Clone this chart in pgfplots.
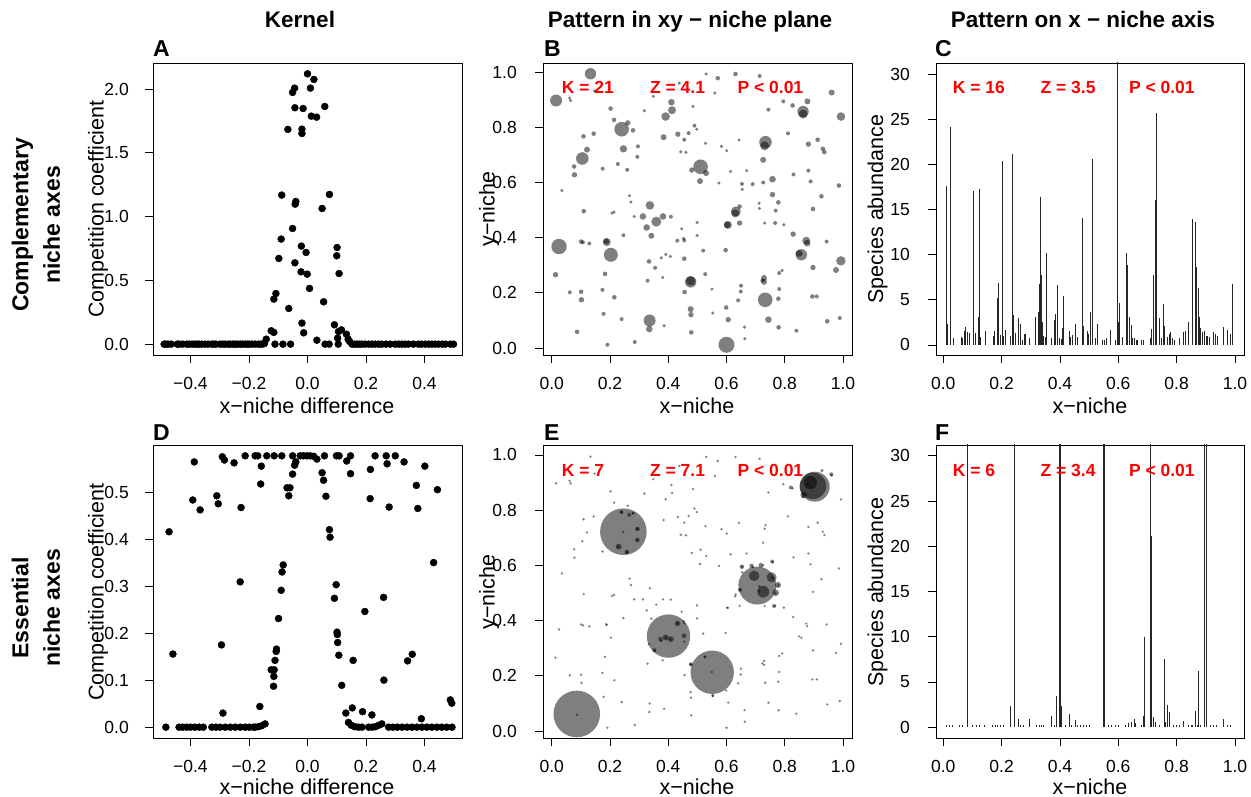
\documentclass[border=0pt]{standalone}
\usepackage{pgfplots}
\pgfplotsset{compat=1.18}
\usepackage{pgfplotstable}
\usepackage{fontspec}
\setmainfont{Liberation Sans}
\definecolor{rred}{RGB}{255,0,0}

\pgfplotstableread{
x y
-0.490 0
-0.485 0
-0.477 0
-0.466 0
-0.445 0
-0.439 0
-0.427 0
-0.413 0
-0.405 0
-0.395 0
-0.386 0
-0.378 0
-0.370 0
-0.361 0
-0.350 0
-0.340 0
-0.327 0
-0.320 0
-0.313 0
-0.299 0
-0.290 0
-0.281 0
-0.270 0
-0.264 0
-0.255 0
-0.247 0
-0.240 0
-0.230 0
-0.222 0
-0.213 0
-0.205 0
-0.199 0
-0.190 0
-0.179 0
-0.168 0
-0.160 0
-0.154 0
-0.147 0.005
-0.141 0.039
-0.124 0.105
-0.115 0.092
-0.111 0
-0.108 0.397
-0.115 0.353
-0.098 0.672
-0.090 0.824
-0.088 1.169
-0.084 0
-0.067 1.684
-0.064 0.280
-0.058 0
-0.051 1.974
-0.051 0.907
-0.044 2.008
-0.043 1.854
-0.043 0.638
-0.042 1.098
-0.040 1.119
-0.022 0.567
-0.021 0.769
-0.019 1.686
-0.019 1.652
-0.019 0.165
-0.015 1.848
-0.013 0.089
-0.005 0.719
-0.001 0.549
0.000 2.120
0.007 0.437
0.010 2.008
0.013 1.788
0.022 2.076
0.031 1.780
0.032 0.031
0.050 1.064
0.055 0.332
0.059 1.864
0.060 0
0.074 0
0.075 1.174
0.092 0.152
0.100 0.693
0.101 0.758
0.103 0.047
0.105 0
0.106 0.099
0.108 0.554
0.116 0.112
0.133 0.078
0.139 0.039
0.144 0.021
0.152 0
0.160 0
0.169 0
0.178 0
0.186 0
0.197 0
0.209 0
0.220 0
0.231 0
0.243 0
0.254 0
0.268 0
0.283 0
0.300 0
0.312 0
0.323 0
0.334 0
0.345 0
0.362 0
0.379 0
0.390 0
0.402 0
0.414 0
0.425 0
0.436 0
0.448 0
0.460 0
0.471 0
0.488 0
0.499 0
}\Adata

\pgfplotstableread{
x y
-0.484 0
-0.473 0.4155
-0.460 0.1555
-0.439 0
-0.427 0
-0.413 0
-0.400 0
-0.387 0.564
-0.392 0.483
-0.385 0
-0.370 0
-0.367 0.462
-0.356 0
-0.327 0
-0.313 0
-0.310 0.492
-0.305 0.475
-0.299 0
-0.294 0.175
-0.291 0.575
-0.289 0.030
-0.284 0.568
-0.281 0
-0.264 0
-0.251 0.562
-0.247 0
-0.230 0.309
-0.230 0
-0.227 0.467
-0.213 0.577
-0.213 0
-0.199 0
-0.185 0
-0.179 0.577
-0.179 0
-0.170 0.577
-0.168 0.001
-0.163 0.044
-0.160 0.517
-0.158 0.555
-0.157 0.003
-0.145 0.007
-0.139 0.577
-0.124 0.122
-0.114 0.122
-0.115 0.108
-0.116 0.087
-0.111 0.142
-0.107 0.161
-0.106 0.166
-0.099 0.231
-0.090 0.291
-0.087 0.330
-0.083 0.345
-0.114 0.577
-0.088 0.577
-0.070 0.509
-0.064 0.492
-0.060 0.509
-0.051 0.538
-0.051 0.577
-0.044 0.557
-0.040 0.564
-0.025 0.577
-0.014 0.577
-0.002 0.577
0.009 0.577
0.021 0.576
0.032 0.570
0.050 0.541
0.055 0.525
0.058 0.577
0.063 0.491
0.075 0.420
0.077 0.404
0.092 0.274
0.098 0.303
0.099 0.577
0.101 0.202
0.102 0.197
0.103 0.180
0.107 0.153
0.108 0.577
0.117 0.089
0.131 0.030
0.134 0.566
0.140 0.010
0.147 0.577
0.147 0.539
0.153 0.041
0.150 0.004
0.156 0.142
0.162 0.001
0.174 0
0.186 0
0.188 0.033
0.196 0.246
0.209 0
0.214 0.486
0.215 0.548
0.220 0.026
0.221 0
0.231 0.577
0.232 0.001
0.243 0.004
0.254 0.007
0.260 0.276
0.261 0.100
0.269 0.577
0.272 0.560
0.279 0.468
0.277 0
0.292 0
0.300 0.577
0.307 0
0.323 0
0.330 0.564
0.340 0
0.342 0.141
0.358 0.155
0.357 0
0.372 0.514
0.377 0.465
0.374 0
0.389 0.018
0.391 0
0.401 0.555
0.408 0
0.425 0
0.431 0.350
0.442 0
0.444 0.505
0.459 0
0.476 0
0.488 0.058
0.493 0.051
0.494 0
}\Ddata

\pgfplotstableread{
x y r
0.133 0.994 5.7
0.015 0.897 6.0
0.240 0.793 7.3
0.105 0.687 6.3
0.511 0.657 7.3
0.025 0.368 7.7
0.203 0.338 7.0
0.336 0.100 6.0
0.600 0.012 8.0
0.733 0.175 7.3
0.734 0.746 6.3
0.731 0.733 4.5
0.863 0.857 5.7
0.863 0.848 4.5
0.857 0.338 5.7
0.849 0.343 3.5
0.993 0.316 4.7
0.993 0.839 4.3
0.477 0.240 5.7
0.477 0.243 4.7
0.632 0.495 5.0
0.630 0.488 4.0
0.337 0.517 4.3
0.359 0.458 5.0
0.391 0.839 4.3
0.411 0.891 3.3
0.413 0.862 4.0
0.605 0.446 4.0
0.758 0.612 3.3
0.874 0.389 4.0
0.877 0.380 3.3
0.189 0.384 4.0
0.187 0.387 3.0
0.246 0.722 3.7
0.326 0.437 3.3
0.342 0.407 3.0
0.313 0.477 3.3
0.382 0.477 3.3
0.335 0.069 3.3
0.509 0.605 3.0
0.530 0.634 3.0
0.481 0.645 2.7
0.744 0.103 3.3
0.976 0.283 3.0
0.729 0.254 3.0
0.729 0.240 3.0
0.726 0.682 3.0
0.881 0.739 2.7
0.878 0.894 3.0
0.961 0.926 3.0
0.101 0.386 2.3
0.078 0.628 2.7
0.077 0.658 2.3
0.121 0.719 3.0
0.109 0.767 2.3
0.261 0.816 2.7
0.279 0.789 2.3
0.202 0.868 2.3
0.214 0.827 2.3
0.144 0.777 2.3
0.384 0.764 3.0
0.433 0.775 2.7
0.455 0.755 2.0
0.528 0.742 1.7
0.443 0.711 1.7
0.461 0.709 1.7
0.456 0.203 2.3
0.527 0.268 2.0
0.477 0.141 3.0
0.478 0.121 2.7
0.479 0.057 2.3
0.455 0.324 2.3
0.455 0.390 2.0
0.334 0.314 2.3
0.355 0.291 2.0
0.329 0.244 2.0
0.376 0.327 1.7
0.392 0.339 1.7
0.407 0.332 1.7
0.597 0.355 2.3
0.602 0.447 3.3
0.645 0.513 2.3
0.645 0.453 2.7
0.758 0.556 2.7
0.778 0.528 2.3
0.769 0.498 2.0
0.829 0.413 2.7
0.926 0.550 2.3
0.897 0.504 2.3
0.931 0.722 2.3
0.936 0.710 2.3
0.881 0.643 2.0
0.889 0.604 2.0
0.897 0.292 2.7
0.944 0.386 2.0
0.946 0.097 2.3
0.989 0.109 2.0
0.986 0.589 2.3
0.895 0.187 2.3
0.910 0.187 2.0
0.778 0.179 2.3
0.779 0.075 2.3
0.840 0.063 2.0
0.827 0.879 2.3
0.795 0.894 2.0
0.811 0.778 2.0
0.744 0.864 2.0
0.714 0.986 2.0
0.631 0.993 2.3
0.570 0.978 2.3
0.560 0.924 1.7
0.530 0.993 1.7
0.438 0.960 1.7
0.485 0.876 1.7
0.349 0.912 1.7
0.318 0.860 1.7
0.147 0.932 1.7
0.061 0.906 1.7
0.065 0.897 1.7
0.035 0.571 1.7
0.110 0.496 2.3
0.107 0.383 2.0
0.129 0.379 2.0
0.246 0.409 2.0
0.175 0.650 2.0
0.227 0.667 2.0
0.259 0.646 2.0
0.294 0.693 2.0
0.296 0.731 2.0
0.207 0.489 1.7
0.214 0.493 1.7
0.267 0.552 1.7
0.272 0.529 1.7
0.283 0.477 1.7
0.409 0.476 2.0
0.431 0.389 2.0
0.453 0.397 1.7
0.446 0.432 1.7
0.499 0.455 1.7
0.499 0.408 1.7
0.520 0.353 2.0
0.550 0.214 1.7
0.470 0.779 2.0
0.490 0.806 2.0
0.498 0.793 1.7
0.553 0.127 1.7
0.599 0.147 2.3
0.606 0.103 2.7
0.650 0.226 2.0
0.649 0.205 2.0
0.640 0.173 2.0
0.662 0.076 1.7
0.663 0.034 1.7
0.669 0.643 1.7
0.653 0.595 2.0
0.654 0.575 1.7
0.690 0.594 2.0
0.712 0.525 1.7
0.713 0.506 1.7
0.726 0.600 2.0
0.731 0.453 1.7
0.767 0.453 2.0
0.781 0.272 2.0
0.791 0.281 1.7
0.781 0.214 2.0
0.797 0.447 1.7
0.830 0.629 2.0
0.913 0.755 2.3
0.191 0.012 2.0
0.285 0.022 2.0
0.178 0.124 2.0
0.183 0.269 2.3
0.174 0.211 2.0
0.062 0.202 2.0
0.087 0.059 2.3
0.101 0.204 2.3
0.102 0.175 2.7
0.013 0.266 2.7
0.215 0.184 2.3
0.240 0.105 2.0
0.386 0.081 1.7
0.381 0.256 1.7
0.583 0.731 1.7
0.601 0.715 1.7
0.614 0.640 1.7
0.643 0.754 1.7
0.574 0.598 1.7
0.723 0.245 2.0
}\Bdata

\pgfplotstableread{
x y r
0.086 0.062 23.3
0.246 0.722 23.3
0.401 0.344 21.7
0.551 0.213 21.7
0.706 0.527 19.0
0.903 0.885 15.0
0.897 0.888 13.3
0.888 0.900 6.7
0.865 0.855 3.3
0.726 0.505 6.0
0.695 0.562 5.3
0.755 0.557 5.0
0.769 0.501 3.3
0.777 0.529 3.0
0.653 0.595 2.3
0.686 0.598 2.3
0.718 0.601 2.3
0.757 0.614 2.0
0.647 0.511 2.0
0.763 0.453 2.0
0.239 0.793 2.0
0.266 0.783 2.0
0.280 0.789 1.7
0.294 0.732 2.3
0.294 0.692 2.3
0.230 0.668 3.0
0.258 0.649 2.3
0.432 0.390 2.7
0.454 0.345 2.3
0.391 0.339 3.0
0.409 0.333 3.0
0.373 0.333 2.3
0.352 0.293 2.0
0.478 0.242 2.0
0.526 0.269 1.7
0.553 0.129 1.7
0.821 0.882 2.0
0.960 0.930 2.0
0.928 0.943 1.7
}\Edata

\pgfplotstableread{
x y
0.011 17.66
0.013 2.3
0.023 24.2
0.034 0.8
0.061 0.9
0.066 0.8
0.072 1.6
0.077 2.0
0.082 1.4
0.088 1.3
0.103 17.1
0.105 2.2
0.109 1.3
0.121 3.1
0.123 17.3
0.129 0.9
0.143 0.9
0.146 1.5
0.171 1.0
0.177 1.6
0.185 5.2
0.190 6.9
0.197 1.1
0.202 20.4
0.206 1.0
0.213 1.7
0.229 1.0
0.238 21.2
0.242 3.3
0.248 1.3
0.257 3.0
0.264 2.3
0.271 0.6
0.278 1.2
0.282 1.2
0.294 0.8
0.315 3.1
0.325 3.6
0.329 6.8
0.333 16.4
0.336 7.8
0.339 2.5
0.345 1.0
0.350 0.9
0.355 10.2
0.371 0.8
0.381 2.8
0.386 3.4
0.391 6.6
0.398 0.8
0.405 0.7
0.408 1.9
0.411 5.4
0.431 1.6
0.435 0.9
0.442 1.1
0.454 2.3
0.461 0.9
0.477 14.1
0.480 2.1
0.493 1.5
0.499 1.2
0.506 3.6
0.510 20.6
0.520 0.8
0.528 2.3
0.546 0.55
0.554 0.6
0.560 0.8
0.574 1.7
0.590 0.6
0.598 35
0.600 2.6
0.603 4.7
0.615 0.9
0.629 10.2
0.632 8.9
0.638 3.1
0.645 2.2
0.649 0.8
0.655 0.8
0.661 0.55
0.666 0.55
0.681 0.55
0.687 0.55
0.711 0.8
0.715 1.8
0.722 7.8
0.728 16.1
0.731 25.7
0.741 3.0
0.749 0.8
0.754 4.5
0.758 2.1
0.769 0.9
0.774 1.2
0.779 1.4
0.786 0.8
0.794 0.6
0.809 0.8
0.823 1.4
0.829 1.6
0.840 2.5
0.855 14.0
0.863 13.6
0.869 8.6
0.874 6.3
0.878 3.1
0.882 1.9
0.889 1.4
0.895 1.6
0.901 1.0
0.907 1.0
0.913 0.9
0.926 1.4
0.933 1.2
0.939 1.0
0.960 2.0
0.975 1.7
0.983 1.2
0.992 6.8
}\Cdata

\pgfplotstableread{
x y
0.012 0.3
0.020 0.3
0.030 0.3
0.055 0.3
0.065 0.3
0.082 60
0.100 0.3
0.112 0.3
0.125 0.3
0.140 0.3
0.170 0.3
0.178 0.3
0.186 0.3
0.195 0.3
0.205 0.3
0.229 2.4
0.243 60
0.257 0.9
0.265 0.3
0.275 0.3
0.294 0.9
0.320 0.3
0.328 0.3
0.335 0.3
0.345 0.3
0.371 1.2
0.380 0.3
0.389 3.4
0.398 60
0.401 60
0.406 2.3
0.420 0.3
0.431 1.5
0.440 0.3
0.453 0.8
0.460 0.3
0.470 0.3
0.480 0.3
0.490 0.3
0.500 0.3
0.549 60
0.551 60
0.565 0.3
0.575 0.3
0.590 0.3
0.600 0.3
0.625 0.3
0.635 0.5
0.645 0.6
0.654 0.9
0.660 0.5
0.680 0.3
0.686 1.2
0.690 10.0
0.710 60
0.714 21.1
0.720 1.1
0.729 0.6
0.740 0.3
0.757 7.5
0.760 0.6
0.769 2.5
0.775 1.7
0.790 0.3
0.800 0.3
0.810 0.3
0.823 0.7
0.840 0.3
0.850 0.3
0.855 0.3
0.863 1.8
0.870 0.3
0.875 6.2
0.880 0.3
0.894 3.8
0.897 60
0.903 60
0.915 0.3
0.925 0.3
0.935 0.3
0.960 0.9
0.975 0.3
0.985 0.3
}\Fdata

\tikzset{
  stat/.style={font=\fontsize{17.5}{20}\selectfont\bfseries, text=rred, anchor=base west, inner sep=0pt},
}
\pgfplotsset{
  rp/.style={
    scale only axis, width=309pt, height=292pt, anchor=south west,
    axis line style={line width=0.8pt, black},
    tick align=outside, major tick length=8pt,
    every tick/.style={black, line width=0.8pt},
    xtick pos=left, ytick pos=left,
    tick label style={font=\fontsize{17.5}{20}\selectfont, inner sep=0pt},
    xticklabel style={anchor=base, yshift=-27pt},
    yticklabel style={anchor=east, xshift=-16pt},
  },
  dots/.style={only marks, mark=*, mark size=3.5pt, black},
  bub/.style={scatter, only marks, mark=*,
    scatter/use mapped color={draw opacity=0, fill=black, fill opacity=0.5},
    visualization depends on={\thisrow{r}\as\rr},
    scatter/@pre marker code/.append style={/tikz/mark size=\rr}},
  unitx/.style={xmin=-0.03, xmax=1.031, xtick={0,0.2,0.4,0.6,0.8,1}, xticklabels={0.0,0.2,0.4,0.6,0.8,1.0}},
  kerx/.style={xmin=-0.528, xmax=0.528, xtick={-0.4,-0.2,0,0.2,0.4}, xticklabels={−0.4,−0.2,0.0,0.2,0.4}},
}

\begin{document}
\begin{tikzpicture}
\useasboundingbox (0,0) rectangle (1251pt,797pt);

% A
\begin{axis}[rp, kerx, at={(153pt,442pt)}, ymin=-0.085, ymax=2.205,
  ytick={0,0.5,1,1.5,2}, yticklabels={0.0,0.5,1.0,1.5,2.0}]
\addplot[dots] table[x=x,y=y]{\Adata};
\end{axis}

% B
\begin{axis}[rp, unitx, at={(543pt,442pt)}, ymin=-0.025, ymax=1.033,
  ytick={0,0.2,0.4,0.6,0.8,1}, yticklabels={0.0,0.2,0.4,0.6,0.8,1.0},
  yticklabel style={xshift=-2pt}]
\addplot[bub] table[x=x,y=y,meta=r]{\Bdata};
\node[stat] at (axis description cs:0.0605,0.894) {K = 21};
\node[stat] at (axis description cs:0.346,0.894) {Z = 4.1};
\node[stat] at (axis description cs:0.629,0.894) {P < 0.01};
\end{axis}

% C
\begin{axis}[rp, at={(936pt,442pt)}, width=308pt, xmin=-0.025, xmax=1.031,
  xtick={0,0.2,0.4,0.6,0.8,1}, xticklabels={0.0,0.2,0.4,0.6,0.8,1.0},
  ymin=-1.11, ymax=31.25, ytick={0,5,10,15,20,25,30}, yticklabels={0,5,10,15,20,25,30},
  yticklabel style={xshift=-2pt}]
\addplot[ycomb, black!85, line width=0.9pt] table[x=x,y=y]{\Cdata};
\node[stat] at (axis description cs:0.054,0.894) {K = 16};
\node[stat] at (axis description cs:0.339,0.894) {Z = 3.5};
\node[stat] at (axis description cs:0.626,0.894) {P < 0.01};
\end{axis}

% D
\begin{axis}[rp, kerx, at={(153pt,59pt)}, height=293pt, ymin=-0.023, ymax=0.600,
  ytick={0,0.1,0.2,0.3,0.4,0.5}, yticklabels={0.0,0.1,0.2,0.3,0.4,0.5}]
\addplot[dots] table[x=x,y=y]{\Ddata};
\end{axis}

% E
\begin{axis}[rp, unitx, at={(543pt,59pt)}, height=293pt, ymin=-0.025, ymax=1.036,
  ytick={0,0.2,0.4,0.6,0.8,1}, yticklabels={0.0,0.2,0.4,0.6,0.8,1.0},
  yticklabel style={xshift=-2pt}]
\addplot[only marks, mark=*, mark size=1.3pt, mark options={draw opacity=0, fill=black, fill opacity=0.5}] table[x=x,y=y]{\Bdata};
\addplot[bub] table[x=x,y=y,meta=r]{\Edata};
\node[stat] at (axis description cs:0.0605,0.894) {K = 7};
\node[stat] at (axis description cs:0.346,0.894) {Z = 7.1};
\node[stat] at (axis description cs:0.629,0.894) {P < 0.01};
\end{axis}

% F
\begin{axis}[rp, at={(936pt,59pt)}, width=308pt, height=293pt, xmin=-0.025, xmax=1.031,
  xtick={0,0.2,0.4,0.6,0.8,1}, xticklabels={0.0,0.2,0.4,0.6,0.8,1.0},
  ymin=-1.19, ymax=31.2, ytick={0,5,10,15,20,25,30}, yticklabels={0,5,10,15,20,25,30},
  yticklabel style={xshift=-2pt}]
\addplot[ycomb, black!85, line width=0.9pt] table[x=x,y=y]{\Fdata};
\node[stat] at (axis description cs:0.054,0.894) {K = 6};
\node[stat] at (axis description cs:0.339,0.894) {Z = 3.4};
\node[stat] at (axis description cs:0.626,0.894) {P < 0.01};
\end{axis}

% column titles
\begin{scope}[every node/.style={font=\fontsize{22.5}{26}\selectfont\bfseries, anchor=base, inner sep=0pt}]
\node at (300pt,769.5pt) {Kernel};
\node at (690pt,769.5pt) {Pattern in xy − niche plane};
\node at (1083pt,769.5pt) {Pattern on x − niche axis};
\end{scope}
% panel letters
\begin{scope}[every node/.style={font=\fontsize{23}{26}\selectfont\bfseries, anchor=base west, inner sep=0pt}]
\node at (153pt,740pt) {A};
\node at (544pt,740pt) {B};
\node at (935pt,740pt) {C};
\node at (153pt,356.5pt) {D};
\node at (544pt,356.5pt) {E};
\node at (935pt,356.5pt) {F};
\end{scope}
% row labels
\begin{scope}[every node/.style={font=\fontsize{23}{26}\selectfont\bfseries, anchor=base, rotate=90, inner sep=0pt}]
\node at (28.5pt,572pt) {Complementary};
\node at (60pt,572pt) {niche axes};
\node at (28.5pt,189pt) {Essential};
\node at (60pt,189pt) {niche axes};
\end{scope}
% axis labels
\begin{scope}[every node/.style={font=\fontsize{21.5}{24}\selectfont, anchor=base, inner sep=0pt}]
\node at (307pt,383pt) {x−niche difference};
\node at (697pt,383pt) {x−niche};
\node at (1090pt,383pt) {x−niche};
\node at (307pt,2pt) {x−niche difference};
\node at (697pt,2pt) {x−niche};
\node at (1090pt,2pt) {x−niche};
\node[rotate=90] at (103.5pt,588pt) {Competition coefficient};
\node[rotate=90] at (494.5pt,588pt) {y−niche};
\node[rotate=90] at (883pt,588pt) {Species abundance};
\node[rotate=90] at (103.5pt,205pt) {Competition coefficient};
\node[rotate=90] at (494.5pt,205pt) {y−niche};
\node[rotate=90] at (883pt,205pt) {Species abundance};
\end{scope}
\end{tikzpicture}
\end{document}
